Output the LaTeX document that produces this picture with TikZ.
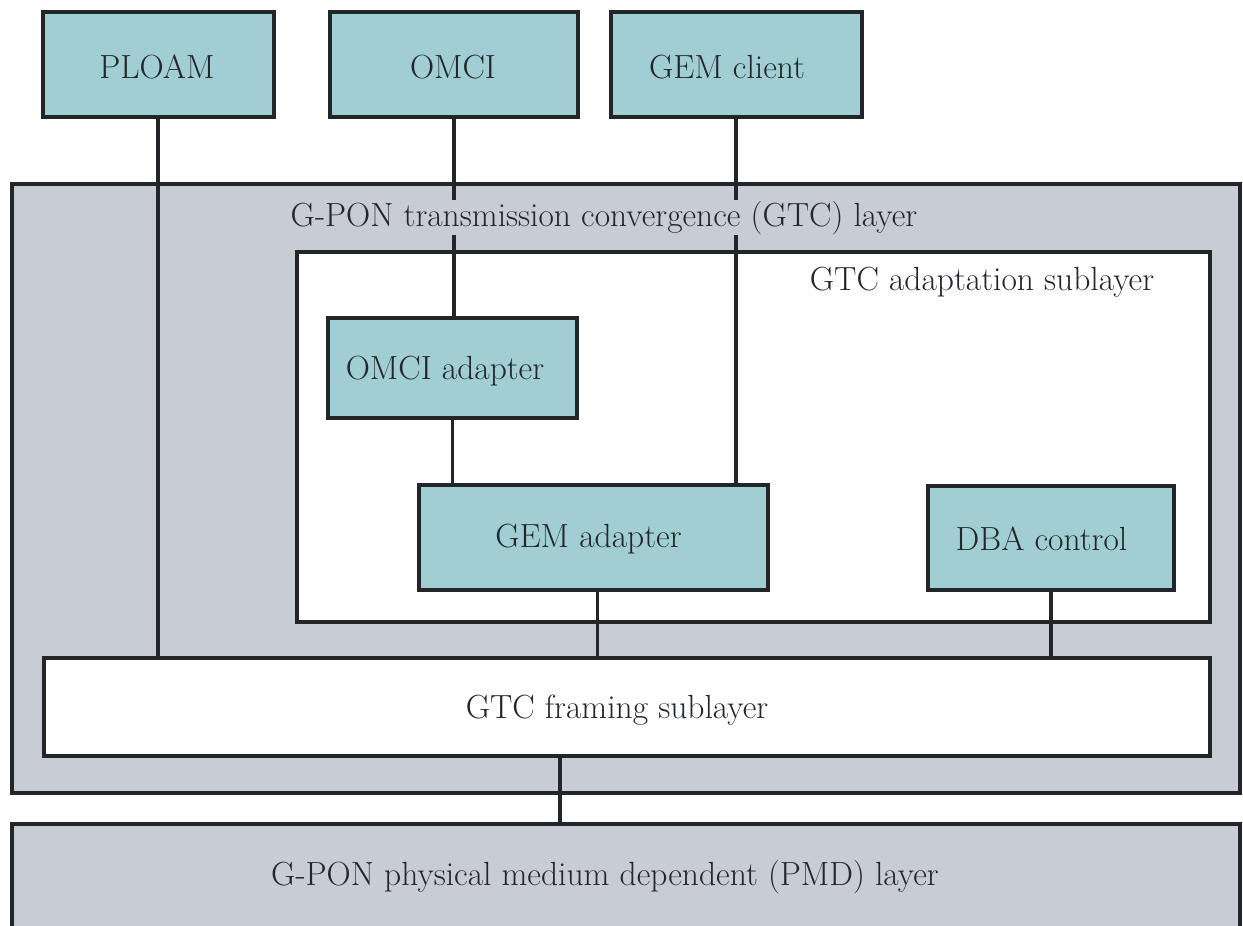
\documentclass[tikz,border=0pt]{standalone}
\definecolor{teal}{HTML}{A0CED2}
\definecolor{laygray}{HTML}{C8CCD4}
\definecolor{edge}{HTML}{222629}
\definecolor{txt}{HTML}{23272B}
\begin{document}
\begin{tikzpicture}[x=1pt,y=-1pt,
  every node/.style={font=\fontsize{33.5}{40}\selectfont, text=txt},
  box/.style={draw=edge, line width=4pt, fill=teal, inner sep=0pt},
  layer/.style={draw=edge, line width=4pt, inner sep=0pt},
  conn/.style={draw=edge, line width=3.5pt},
  lbl/.style={inner sep=0pt, anchor=base}]
\useasboundingbox (0,0) rectangle (1243,926);
% layers
\node[layer, fill=laygray, minimum width=1228, minimum height=609] (gtc) at (626,488.5) {};
\node[layer, fill=white, minimum width=913, minimum height=370] (adapt) at (753.5,437) {};
\node[layer, fill=white, minimum width=1166, minimum height=98] (framing) at (627,707) {};
\node[layer, fill=laygray, minimum width=1228, minimum height=106] (pmd) at (626,877) {};
% teal boxes
\node[box, minimum width=231, minimum height=105] (ploam) at (158,64.5) {};
\node[box, minimum width=248, minimum height=105] (omci) at (454,64.5) {};
\node[box, minimum width=251, minimum height=105] (gemc) at (736,64.5) {};
\node[box, minimum width=249, minimum height=100] (omciad) at (452.5,368) {};
\node[box, minimum width=349, minimum height=105] (gemad) at (593.5,537.5) {};
\node[box, minimum width=246, minimum height=104] (dba) at (1051,538) {};
% connectors
\draw[conn] (ploam.south) -- (ploam.south |- framing.north);
\draw[conn] (omci.south) -- (omci.south |- omciad.north);
\draw[conn] (omciad.south) -- (omciad.south |- gemad.north);
\draw[conn] (gemc.south) -- (gemc.south |- gemad.north);
\draw[conn] ([xshift=4]gemad.south) -- ([xshift=4]gemad.south |- framing.north);
\draw[conn] (dba.south) -- (dba.south |- framing.north);
\draw[conn] ([xshift=-67]framing.south) -- ([xshift=-67]framing.south |- pmd.north);
% labels
\node[lbl] (tploam) at (157,78) {PLOAM};
\node[lbl] (tomci) at (453,78) {OMCI};
\node[lbl] (tgemc) at (727,78) {GEM client};
\node[lbl, fill=laygray, inner sep=1pt] (tgtc) at (604,226) {G-PON transmission convergence (GTC) layer};
\node[lbl, fill=white, inner sep=1pt] (tadapt) at (982,290) {GTC adaptation sublayer};
\node[lbl] (tomciad) at (445,379) {OMCI adapter};
\node[lbl] (tgemad) at (588.5,547) {GEM adapter};
\node[lbl] (tdba) at (1041.5,550) {DBA control};
\node[lbl] (tframing) at (617,718) {GTC framing sublayer};
\node[lbl] (tpmd) at (605,885) {G-PON physical medium dependent (PMD) layer};
\end{tikzpicture}
\end{document}
